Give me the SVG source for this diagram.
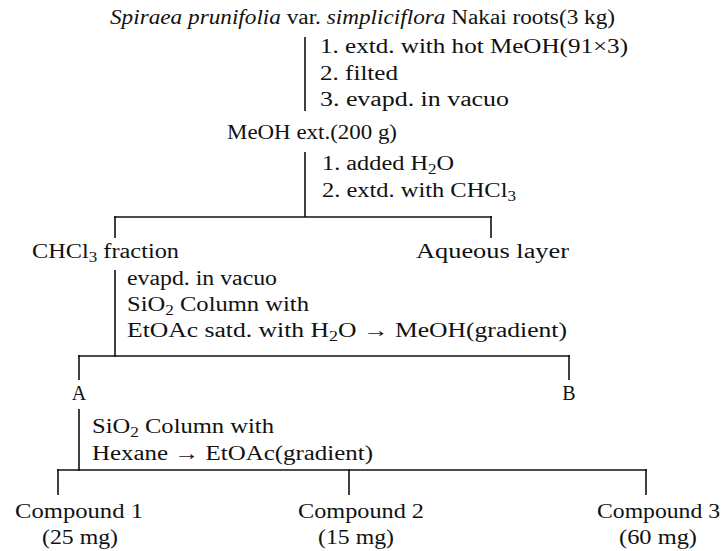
<svg xmlns="http://www.w3.org/2000/svg" width="721" height="551" viewBox="0 0 721 551">
<style>
text{font-family:"Liberation Serif","Times New Roman",serif;font-size:20px;fill:#111}
.it{font-style:italic}
.sub{font-size:14px}
.c{text-anchor:middle}
.mg{font-size:21px}
#connectors line{stroke:#111;stroke-width:1.6;fill:none}
</style>
<rect width="721" height="551" fill="#fff"/>
<g id="connectors">
<line x1="305" y1="37" x2="305" y2="111"/>
<line x1="305" y1="152" x2="305" y2="217"/>
<line x1="114" y1="217" x2="492" y2="217"/>
<line x1="115" y1="216" x2="115" y2="238"/>
<line x1="491" y1="216" x2="491" y2="238"/>
<line x1="115" y1="270" x2="115" y2="357"/>
<line x1="78" y1="356" x2="570" y2="356"/>
<line x1="79" y1="355" x2="79" y2="380"/>
<line x1="569" y1="355" x2="569" y2="380"/>
<line x1="79" y1="409" x2="79" y2="471"/>
<line x1="57" y1="470" x2="647" y2="470"/>
<line x1="58" y1="469" x2="58" y2="495"/>
<line x1="349" y1="469" x2="349" y2="495"/>
<line x1="646" y1="469" x2="646" y2="495"/>
</g>
<g id="node-roots">
<text x="110" y="24" textLength="505" lengthAdjust="spacingAndGlyphs"><tspan class="it">Spiraea prunifolia</tspan> var. <tspan class="it">simpliciflora</tspan> Nakai roots(3 kg)</text>
</g>
<g id="step-1">
<text x="320" y="53" textLength="308" lengthAdjust="spacingAndGlyphs">1. extd. with hot MeOH(91×3)</text>
<text x="320" y="80" textLength="78" lengthAdjust="spacingAndGlyphs">2. filted</text>
<text x="320" y="106" textLength="189" lengthAdjust="spacingAndGlyphs">3. evapd. in vacuo</text>
</g>
<g id="node-meoh">
<text x="227" y="139" textLength="170" lengthAdjust="spacingAndGlyphs">MeOH ext.(200 g)</text>
</g>
<g id="step-2">
<text x="322" y="170" textLength="132" lengthAdjust="spacingAndGlyphs">1. added H<tspan class="sub" dy="4">2</tspan><tspan dy="-4">O</tspan></text>
<text x="322" y="197" textLength="194" lengthAdjust="spacingAndGlyphs">2. extd. with CHCl<tspan class="sub" dy="4">3</tspan></text>
</g>
<g id="node-chcl3">
<text x="32" y="258" textLength="147" lengthAdjust="spacingAndGlyphs">CHCl<tspan class="sub" dy="4">3</tspan><tspan dy="-4"> fraction</tspan></text>
</g>
<g id="node-aqueous">
<text x="416" y="258" textLength="153" lengthAdjust="spacingAndGlyphs">Aqueous layer</text>
</g>
<g id="step-3">
<text x="127" y="285" textLength="150" lengthAdjust="spacingAndGlyphs">evapd. in vacuo</text>
<text x="127" y="311" textLength="182" lengthAdjust="spacingAndGlyphs">SiO<tspan class="sub" dy="4">2</tspan><tspan dy="-4"> Column with</tspan></text>
<text x="127" y="337" textLength="440" lengthAdjust="spacingAndGlyphs">EtOAc satd. with H<tspan class="sub" dy="4">2</tspan><tspan dy="-4">O → MeOH(gradient)</tspan></text>
</g>
<g id="node-a">
<text class="c" x="79" y="400" font-size="21">A</text>
</g>
<g id="node-b">
<text class="c" x="569" y="400" font-size="21">B</text>
</g>
<g id="step-4">
<text x="92" y="433" textLength="182" lengthAdjust="spacingAndGlyphs">SiO<tspan class="sub" dy="4">2</tspan><tspan dy="-4"> Column with</tspan></text>
<text x="92" y="460" textLength="281" lengthAdjust="spacingAndGlyphs">Hexane → EtOAc(gradient)</text>
</g>
<g id="node-compound-1">
<text x="15" y="518" textLength="128" lengthAdjust="spacingAndGlyphs">Compound 1</text>
<text class="mg" x="42" y="544" textLength="76" lengthAdjust="spacingAndGlyphs">(25 mg)</text>
</g>
<g id="node-compound-2">
<text x="298" y="518" textLength="126" lengthAdjust="spacingAndGlyphs">Compound 2</text>
<text class="mg" x="318" y="544" textLength="76" lengthAdjust="spacingAndGlyphs">(15 mg)</text>
</g>
<g id="node-compound-3">
<text x="597" y="518" textLength="123" lengthAdjust="spacingAndGlyphs">Compound 3</text>
<text class="mg" x="619" y="544" textLength="78" lengthAdjust="spacingAndGlyphs">(60 mg)</text>
</g>
</svg>
